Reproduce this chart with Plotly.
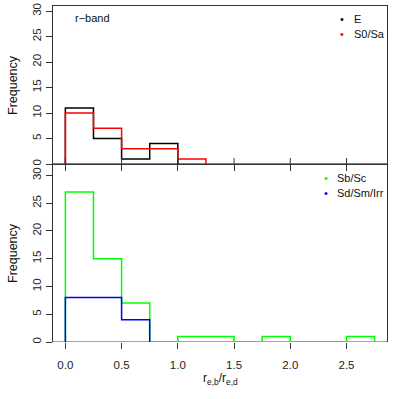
import plotly.graph_objects as go
from plotly.subplots import make_subplots

# ---- data ----
bin_start = 0.0
bin_width = 0.25
E_counts = [11, 5, 1, 4]
S0Sa_counts = [10, 7, 3, 3, 1]
SbSc_counts = [27, 15, 7, 0, 1, 1, 0, 1, 0, 0, 1]
SdSmIrr_counts = [8, 8, 4]
x_ticks = [0.0, 0.5, 1.0, 1.5, 2.0, 2.5]
x_tick_labels = ["0.0", "0.5", "1.0", "1.5", "2.0", "2.5"]
y_ticks = [0, 5, 10, 15, 20, 25, 30]
top_labels = ["E", "S0/Sa"]
top_colors = ["#000000", "#ff0000"]
bot_labels = ["Sb/Sc", "Sd/Sm/Irr"]
bot_colors = ["#00ff00", "#0000ff"]

FONT = "Liberation Sans, Arial, Helvetica, sans-serif"


def step_xy(counts):
    edges = [bin_start + i * bin_width for i in range(len(counts) + 1)]
    xs = [edges[0]] + edges
    ys = [0] + list(counts) + [0]
    return xs, ys


W, H = 399, 399
ML, MR, MT, MB = 53, 12, 6, 57
PW = W - ML - MR
PH = H - MT - MB
split_px = 164  # boundary between panels
dom_split = (H - MB - split_px) / PH

fig = make_subplots(rows=2, cols=1, shared_xaxes=False)
fig.update_layout(
    xaxis=dict(domain=[0, 1], anchor="y"),
    yaxis=dict(domain=[dom_split, 1], anchor="x"),
    xaxis2=dict(domain=[0, 1], anchor="y2"),
    yaxis2=dict(domain=[0, dom_split], anchor="x2"),
)

for counts, col, name in [(E_counts, top_colors[0], top_labels[0]),
                          (S0Sa_counts, top_colors[1], top_labels[1])]:
    xs, ys = step_xy(counts)
    fig.add_trace(go.Scatter(x=xs, y=ys, mode="lines", line=dict(color=col, width=1.5, shape="hv"),
                             name=name, showlegend=False, hoverinfo="skip"), row=1, col=1)

for counts, col, name in [(SbSc_counts, bot_colors[0], bot_labels[0]),
                          (SdSmIrr_counts, bot_colors[1], bot_labels[1])]:
    xs, ys = step_xy(counts)
    fig.add_trace(go.Scatter(x=xs, y=ys, mode="lines", line=dict(color=col, width=1.5, shape="hv"),
                             name=name, showlegend=False, hoverinfo="skip"), row=2, col=1)

xr = [-0.11, 2.86]
common_x = dict(range=xr, tickvals=x_ticks, showgrid=False, zeroline=False, automargin=False,
                ticks="outside", tickcolor="#333", ticklen=6, tickwidth=1)
fig.update_xaxes(**common_x, showticklabels=False, showline=True, mirror=True,
                 linecolor="#333", linewidth=1, row=1, col=1)
fig.update_xaxes(**common_x, ticktext=x_tick_labels, showticklabels=True,
                 showline=False, tickfont=dict(family=FONT, size=11.5, color="#222"),
                 ticklabelstandoff=6, row=2, col=1)

common_y = dict(tickvals=y_ticks, showgrid=False, zeroline=False, ticks="outside", automargin=False,
                tickcolor="#333", ticklen=6, tickwidth=1, tickangle=-90,
                tickfont=dict(family=FONT, size=11.5, color="#222"),
                showline=True, linecolor="#333", linewidth=1, mirror=True)
fig.update_yaxes(**common_y, range=[0, 31], row=1, col=1)
fig.update_yaxes(**common_y, range=[0, 32.05], row=2, col=1)

# baselines at zero
fig.add_shape(type="line", xref="x domain", yref="y", x0=0, x1=1, y0=0, y1=0,
              line=dict(color="#555", width=1.6), layer="below")
fig.add_shape(type="line", xref="x2 domain", yref="y2", x0=0, x1=1, y0=0, y1=0,
              line=dict(color="#888", width=1.4), layer="below")
# mirrored ticks pointing up from the panel boundary
for xv in x_ticks:
    fig.add_shape(type="line", xref="x2", yref="paper", x0=xv, x1=xv,
                  y0=dom_split, y1=dom_split + 6 / PH, line=dict(color="#333", width=1))


def px_to_paper(px, py):
    return (px - ML) / PW, (H - MB - py) / PH


ann = []
# y-axis titles
for py in (85, 253):
    x, y = px_to_paper(13, py)
    ann.append(dict(x=x, y=y, xref="paper", yref="paper", text="Frequency", textangle=-90,
                    showarrow=False, font=dict(family=FONT, size=12.5, color="#111"),
                    xanchor="center", yanchor="middle"))
# x-axis title
x, y = px_to_paper(220, 379)
ann.append(dict(x=x, y=y, xref="paper", yref="paper",
                text="r<sub>e,b</sub>/r<sub>e,d</sub>", showarrow=False,
                font=dict(family=FONT, size=12, color="#111"), xanchor="center", yanchor="middle"))
# panel label
x, y = px_to_paper(72.5, 18.3)
ann.append(dict(x=x, y=y, xref="paper", yref="paper", text="r\u2212band", showarrow=False,
                font=dict(family=FONT, size=11, color="#111"), xanchor="left", yanchor="middle"))


def legend(labels, colors, dot_x, text_x, y0, dy=14.5):
    for i, (lab, col) in enumerate(zip(labels, colors)):
        py = y0 + i * dy
        x, y = px_to_paper(dot_x, py)
        ann.append(dict(x=x, y=y, xref="paper", yref="paper", text="\u2022", showarrow=False,
                        font=dict(family=FONT, size=11, color=col), xanchor="center", yanchor="middle"))
        x, y = px_to_paper(text_x, py)
        ann.append(dict(x=x, y=y, xref="paper", yref="paper", text=lab, showarrow=False,
                        font=dict(family=FONT, size=11, color="#111"), xanchor="left", yanchor="middle"))


legend(top_labels, top_colors, 341.7, 352.2, 19.3)
legend(bot_labels, bot_colors, 325.7, 334.5, 177.5, dy=15)

fig.update_layout(
    width=W, height=H, margin=dict(l=ML, r=MR, t=MT, b=MB, pad=0, autoexpand=False),
    paper_bgcolor="white", plot_bgcolor="white", showlegend=False,
    annotations=ann,
)

fig.write_html("out.html", config={"displayModeBar": False},
               post_script="document.body.style.margin='0';document.body.style.padding='0';")
